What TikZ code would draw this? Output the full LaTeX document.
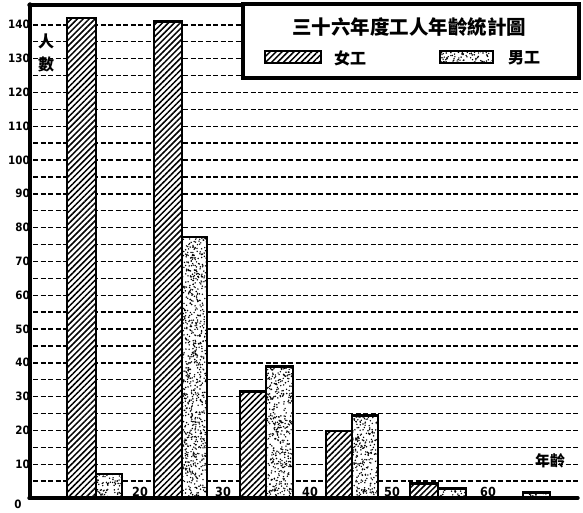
\documentclass[tikz,border=0pt]{standalone}
\usepackage{fontspec}
\usetikzlibrary{patterns.meta}
\newfontfamily\cjk{Noto Sans CJK TC}
\newfontfamily\numf{DejaVu Sans Condensed}
\tikzset{
  axisline/.style={line width=3.4pt, line cap=round},
  gridline/.style={line width=1.4pt, dash pattern=on 5pt off 2.5pt},
  barframe/.style={line width=2.8pt},
  hatch/.style={pattern={Lines[angle=45,distance=4.2pt,line width=1.5pt]}},
  ylab/.style={font=\numf\bfseries\fontsize{11.5}{11.5}\selectfont, inner sep=0pt, anchor=east},
  xlab/.style={font=\numf\bfseries\fontsize{12.5}{12.5}\selectfont, inner sep=0pt},
  cjklab/.style={font=\cjk\bfseries\fontsize{16}{16}\selectfont, inner sep=0pt},
}
\newcommand\stip[4]{%
  \begin{scope}
    \clip (#1,#3) rectangle (#2,#4);
    \pgfmathtruncatemacro\nd{max(4,(#2-#1)*(#4-#3)/8)}
    \foreach \i in {1,...,\nd}{%
      \pgfmathsetmacro\px{#1+rnd*(#2-#1)}%
      \pgfmathsetmacro\py{#3+rnd*(#4-#3)}%
      \fill (\px,\py) circle[radius=0.8pt];
    }
  \end{scope}}
\newcommand\yv[1]{498-3.38*#1}
\begin{document}
\begin{tikzpicture}[x=1pt,y=-1pt]
\pgfmathsetseed{7}
\useasboundingbox (0,0) rectangle (583,512);
\fill[white] (0,0) rectangle (583,512);
% grid lines
\foreach \v in {5,10,...,140}{
  \draw[gridline] (33,{\yv{\v}}) -- (580,{\yv{\v}});
}
% title box
\draw[line width=3.8pt, fill=white] (243,4) rectangle (579,78);
\node[font=\cjk\bfseries\fontsize{19.5}{19.5}\selectfont, inner sep=0pt] (title) at (409,27) {三十六年度工人年齡統計圖};
\fill[white] (265,51) rectangle (321,63);
\fill[hatch] (265,51) rectangle (321,63);
\draw[barframe] (265,51) rectangle (321,63);
\node[cjklab] (lf) at (350,58) {女工};
\fill[white] (440,51) rectangle (493,63);
\stip{440}{493}{51}{63}
\draw[barframe] (440,51) rectangle (493,63);
\node[cjklab] (lm) at (524,58) {男工};
% female bars
\foreach \xa/\xb/\v in {67/96/142, 154/182/141, 240/266/31.4, 326/352/19.8, 410/438/4.4}{
  \fill[white] (\xa,{\yv{\v}}) rectangle (\xb,498);
  \fill[hatch] (\xa,{\yv{\v}}) rectangle (\xb,498);
  \draw[barframe] (\xa,{\yv{\v}}) rectangle (\xb,498);
}
% male bars
\foreach \xa/\xb/\v in {96/122/7.1, 182/207/77.2, 266/293/38.8, 352/378/24.3, 438/466/2.7, 523/550/1.6}{
  \fill[white] (\xa,{\yv{\v}}) rectangle (\xb,498);
  \pgfmathsetmacro\yt{\yv{\v}}
  \stip{\xa}{\xb}{\yt}{498}
  \draw[barframe] (\xa,{\yv{\v}}) rectangle (\xb,498);
}
% axes
\draw[axisline] (29,5) -- (243,5);
\draw[axisline] (30,4) -- (30,498);
\draw[axisline] (29,498) -- (578,498);
% y labels
\foreach \v in {10,20,...,140}{
  \node[ylab] (y\v) at (30,{\yv{\v}}) {\v};
}
\node[ylab, anchor=center] (y0) at (18,504) {0};
% x labels
\node[xlab] (x20) at (140,492) {20};
\node[xlab] (x30) at (223,492) {30};
\node[xlab] (x40) at (310,492) {40};
\node[xlab] (x50) at (392,492) {50};
\node[xlab] (x60) at (488,492) {60};
% axis titles
\node[cjklab] (ren) at (46,41) {人};
\node[cjklab] (shu) at (46,64) {數};
\node[cjklab, font=\cjk\bfseries\fontsize{15}{15}\selectfont] (age) at (550,461) {年齡};
\end{tikzpicture}
\end{document}
